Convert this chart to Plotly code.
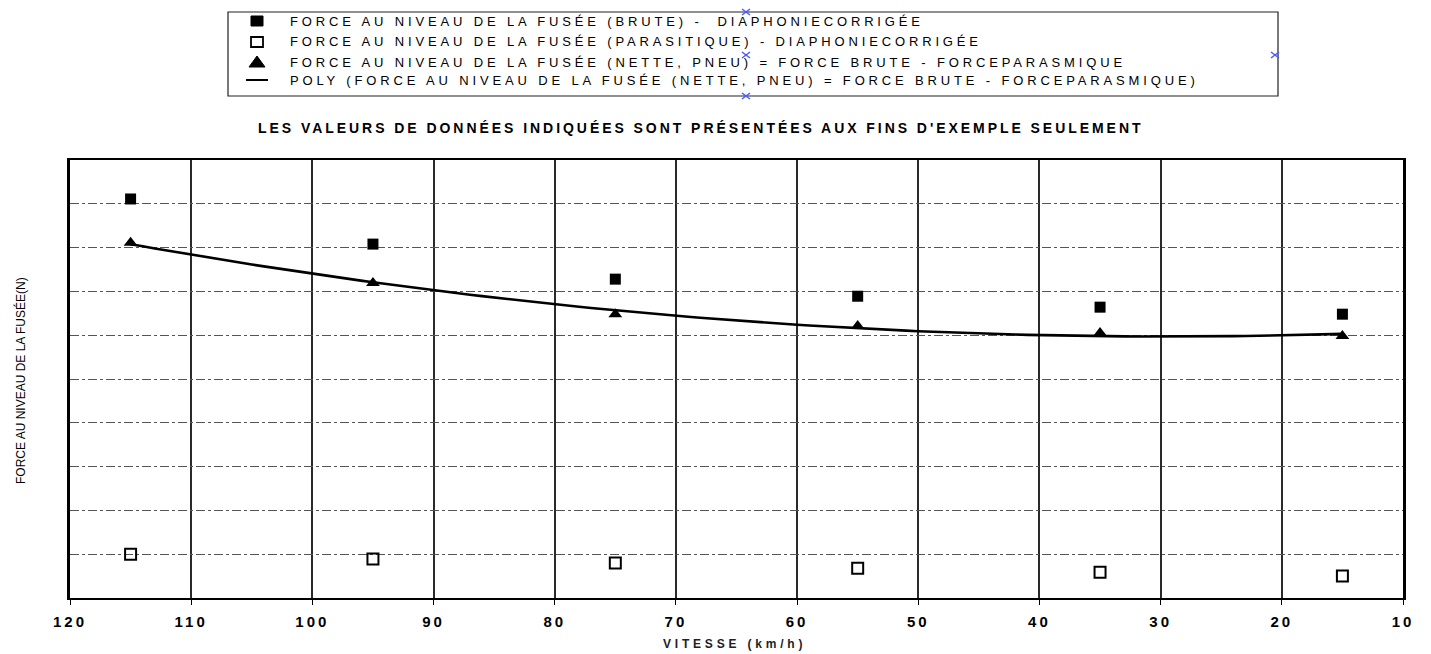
import numpy as np
import plotly.graph_objects as go

# ---------------- data ----------------
speed = [115, 95, 75, 55, 35, 15]                       # km/h
force_brute = [9.11, 8.08, 7.28, 6.89, 6.64, 6.48]      # gross (filled squares)
force_parasitic = [1.00, 0.89, 0.80, 0.68, 0.59, 0.50]  # parasitic (open squares)
force_net = [8.11, 7.19, 6.48, 6.21, 6.05, 5.98]        # net (triangles)
x_tick_vals = [120, 110, 100, 90, 80, 70, 60, 50, 40, 30, 20, 10]
x_tick_text = [str(v) for v in x_tick_vals]

names = [
    "FORCE AU NIVEAU DE LA FUSÉE (BRUTE) -  DIAPHONIECORRIGÉE",
    "FORCE AU NIVEAU DE LA FUSÉE (PARASITIQUE) - DIAPHONIECORRIGÉE",
    "FORCE AU NIVEAU DE LA FUSÉE (NETTE, PNEU) = FORCE BRUTE - FORCEPARASMIQUE",
    "POLY (FORCE AU NIVEAU DE LA FUSÉE (NETTE, PNEU) = FORCE BRUTE - FORCEPARASMIQUE)",
]
title_text = "LES VALEURS DE DONNÉES INDIQUÉES SONT PRÉSENTÉES AUX FINS D'EXEMPLE SEULEMENT"
y_title = "FORCE AU NIVEAU DE LA FUSÉE(N)"
x_title = "VITESSE (km/h)"

# polynomial trend (2nd order) of the net force, as in the original chart
coef = np.polyfit(speed, force_net, 2)
poly_x = np.linspace(min(speed), max(speed), 101)
poly_y = np.polyval(coef, poly_x)

# ---------------- layout geometry ----------------
OFF = 8                       # page body margin
W, H = 1431 - OFF, 654 - OFF
ML, MT = 70 - OFF, 160 - OFF
MR = W - (1403 - OFF)
MB = H - (598 - OFF)
PW, PH = W - ML - MR, H - MT - MB


def px(xp):
    return (xp - OFF - ML) / PW


def py(yp):
    return (H - MB - (yp - OFF)) / PH


FONT = "Liberation Sans, Arial, sans-serif"


def spaced(t, ls):
    return f'<span style="letter-spacing:{ls}px">{t}</span>'


fig = go.Figure()

fig.add_trace(go.Scatter(x=poly_x, y=poly_y, mode="lines", name=names[3],
                         line=dict(color="black", width=2.6), showlegend=False,
                         hoverinfo="skip"))
fig.add_trace(go.Scatter(x=speed, y=force_brute, mode="markers", name=names[0],
                         marker=dict(symbol="square", size=11, color="black"),
                         showlegend=False))
fig.add_trace(go.Scatter(x=speed, y=force_parasitic, mode="markers", name=names[1],
                         marker=dict(symbol="square-open", size=11, color="black",
                                     line=dict(width=2, color="black")),
                         showlegend=False))
fig.add_trace(go.Scatter(x=speed, y=force_net, mode="markers", name=names[2],
                         marker=dict(symbol="triangle-up", size=12, color="black"),
                         showlegend=False))

shapes = []
annotations = []

# legend box
shapes.append(dict(type="rect", xref="paper", yref="paper",
                   x0=px(228), x1=px(1278), y0=py(96), y1=py(12),
                   line=dict(color="#222", width=1.2), fillcolor="rgba(0,0,0,0)"))
rows = [21, 42, 62, 80]
sx = 257
shapes.append(dict(type="rect", xref="paper", yref="paper",
                   x0=px(sx - 6), x1=px(sx + 6), y0=py(rows[0] + 5), y1=py(rows[0] - 5),
                   line=dict(color="black", width=1), fillcolor="black"))
shapes.append(dict(type="rect", xref="paper", yref="paper",
                   x0=px(sx - 6), x1=px(sx + 6), y0=py(rows[1] + 5), y1=py(rows[1] - 5),
                   line=dict(color="black", width=1.8), fillcolor="white"))
tri = (f"M {px(sx - 8)} {py(rows[2] + 5)} L {px(sx + 8)} {py(rows[2] + 5)} "
       f"L {px(sx)} {py(rows[2] - 6)} Z")
shapes.append(dict(type="path", xref="paper", yref="paper", path=tri,
                   line=dict(color="black", width=1), fillcolor="black"))
shapes.append(dict(type="line", xref="paper", yref="paper",
                   x0=px(sx - 11), x1=px(sx + 11), y0=py(rows[3]), y1=py(rows[3]),
                   line=dict(color="black", width=2)))

for r, n in zip(rows, names):
    annotations.append(dict(xref="paper", yref="paper", x=px(288), y=py(r),
                            xanchor="left", yanchor="middle", showarrow=False,
                            text=spaced(n, 3.85),
                            font=dict(family=FONT, size=13, color="black")))

# blue selection handles (small crosses)
for (hx, hy) in [(746, 12), (746, 55), (1275, 55), (746, 96)]:
    for d in (1, -1):
        shapes.append(dict(type="line", xref="paper", yref="paper",
                           x0=px(hx - 4), x1=px(hx + 4),
                           y0=py(hy - 3 * d), y1=py(hy + 3 * d),
                           line=dict(color="#4a5cff", width=1.5)))

# title
annotations.append(dict(xref="paper", yref="paper", x=px(700), y=py(128),
                        xanchor="center", yanchor="middle", showarrow=False,
                        text="<b>" + spaced(title_text, 2.95) + "</b>",
                        font=dict(family=FONT, size=14, color="black")))
# y title
annotations.append(dict(xref="paper", yref="paper", x=px(20), y=py(381),
                        xanchor="center", yanchor="middle", showarrow=False,
                        textangle=-90, text=y_title,
                        font=dict(family=FONT, size=12, color="black")))
# x title
annotations.append(dict(xref="paper", yref="paper", x=px(734), y=py(644),
                        xanchor="center", yanchor="middle", showarrow=False,
                        text="<b>" + spaced(x_title, 3.8) + "</b>",
                        font=dict(family=FONT, size=12, color="#222")))

fig.update_layout(
    width=W, height=H, autosize=False,
    margin=dict(l=ML, r=MR, t=MT, b=MB),
    paper_bgcolor="white", plot_bgcolor="white",
    shapes=shapes, annotations=annotations, showlegend=False,
    xaxis=dict(range=[120, 10], tickvals=x_tick_vals,
               ticktext=["<b>" + spaced(t, 3) + "</b>" for t in x_tick_text],
               tickfont=dict(family=FONT, size=15, color="black"),
               ticklabelstandoff=4,
               showgrid=True, gridcolor="#2a2a2a", gridwidth=1.6,
               zeroline=False, showline=True, mirror=True,
               linecolor="black", linewidth=1.6,
               ticks="outside", ticklen=5, tickcolor="black"),
    yaxis=dict(range=[0, 10], dtick=1, showticklabels=False,
               showgrid=True, gridcolor="#555", gridwidth=1, griddash="dashdot",
               zeroline=False, showline=True, mirror=True,
               linecolor="black", linewidth=2.5, ticks=""),
)

fig.write_html("out.html")
